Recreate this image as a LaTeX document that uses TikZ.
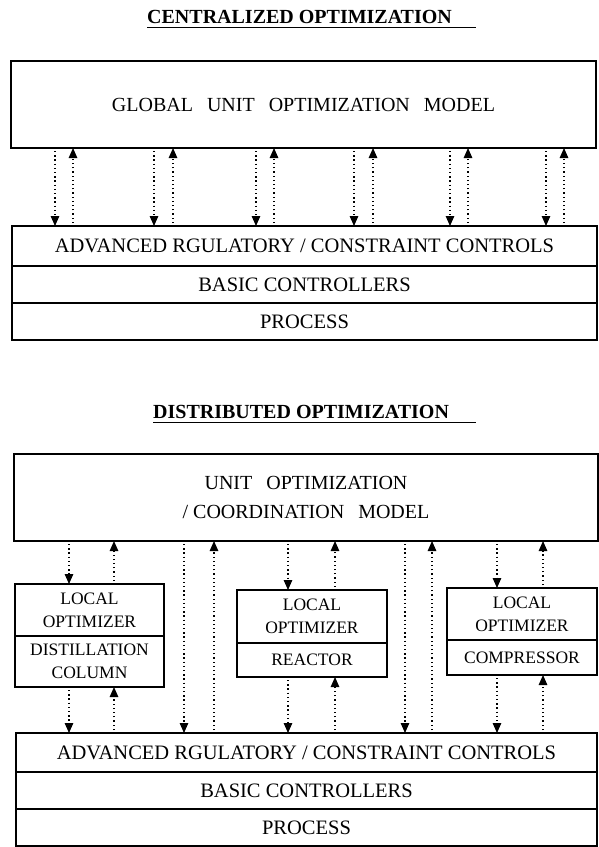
\documentclass[tikz,border=0pt]{standalone}
\usepackage{fontspec}
\setmainfont{Liberation Serif}
\usepackage{tikz}
\usetikzlibrary{positioning,arrows.meta}

\tikzset{
  box/.style={draw, line width=1.2pt, inner sep=0pt, outer sep=0pt, align=center},
  row/.style={box, minimum width=585pt, minimum height=37pt, font=\fontsize{20.5}{24}\selectfont},
  loc/.style={box, minimum width=150pt, font=\fontsize{17.5}{23}\selectfont},
  sig/.style={line width=1.2pt, dash pattern=on 1.3pt off 2.9pt, shorten <=3pt,
              -{Triangle[length=10pt,width=8.5pt]}},
  title/.style={inner sep=0pt, anchor=base west, font=\fontsize{20}{24}\selectfont\bfseries},
}
\newcommand\wgap{\hspace{0.7em}}

\begin{document}
\begin{tikzpicture}[x=1pt, y=-1pt]
   \useasboundingbox (0,0) rectangle (599,847);
   % centralized
   \node[title] (t1) at (147,23.5) {CENTRALIZED OPTIMIZATION};
   \draw[line width=1pt] ([yshift=-3.5pt]t1.base west) -- ++(329,0);
   \node[box, minimum width=585pt, minimum height=87pt, font=\fontsize{20}{29}\selectfont]
      (glob) at (303.5,104.5) {GLOBAL\wgap UNIT\wgap OPTIMIZATION\wgap MODEL};
   \node[row, minimum height=40pt] (adv1) at (304.5,246) {ADVANCED RGULATORY / CONSTRAINT CONTROLS};
   \node[row, below=0pt of adv1] (bas1) {BASIC CONTROLLERS};
   \node[row, below=0pt of bas1] (pro1) {PROCESS};
   \foreach \d/\u in {55/73,154/173,256/274,354/373,450/468,546/564}{
      \draw[sig] (glob.south -| \d,0) -- (adv1.north -| \d,0);
      \draw[sig] (adv1.north -| \u,0) -- (glob.south -| \u,0);
   }
   % distributed
   \node[title] (t2) at (153,418.5) {DISTRIBUTED OPTIMIZATION};
   \draw[line width=1pt] ([yshift=-3.5pt]t2.base west) -- ++(323,0);
   \node[box, minimum width=584pt, minimum height=87pt, font=\fontsize{20}{29}\selectfont]
      (coord) at (306,497.5) {UNIT\wgap OPTIMIZATION\\/ COORDINATION\wgap MODEL};
   \node[loc, minimum width=149pt, minimum height=52pt] (dopt) at (89.5,610) {LOCAL\\OPTIMIZER};
   \node[loc, minimum width=149pt, minimum height=51pt, below=0pt of dopt] (dcol) {DISTILLATION\\COLUMN};
   \node[loc, minimum height=53pt] (ropt) at (312,616.5) {LOCAL\\OPTIMIZER};
   \node[loc, minimum height=34pt, below=0pt of ropt] (rrea) {REACTOR};
   \node[loc, minimum height=52pt] (copt) at (522,614) {LOCAL\\OPTIMIZER};
   \node[loc, minimum height=35pt, below=0pt of copt] (ccom) {COMPRESSOR};
   \node[row, minimum width=581pt, minimum height=39pt] (adv2) at (306.5,752.5) {ADVANCED RGULATORY / CONSTRAINT CONTROLS};
   \node[row, minimum width=581pt, below=0pt of adv2] (bas2) {BASIC CONTROLLERS};
   \node[row, minimum width=581pt, below=0pt of bas2] (pro2) {PROCESS};
   \foreach \a/\b/\d/\u in {dopt/dcol/69/114, ropt/rrea/288/335, copt/ccom/497/543}{
      \draw[sig] (coord.south -| \d,0) -- (\a.north -| \d,0);
      \draw[sig] (\a.north -| \u,0) -- (coord.south -| \u,0);
      \draw[sig] (\b.south -| \d,0) -- (adv2.north -| \d,0);
      \draw[sig] (adv2.north -| \u,0) -- (\b.south -| \u,0);
   }
   \foreach \d/\u in {184/214, 405/432}{
      \draw[sig] (coord.south -| \d,0) -- (adv2.north -| \d,0);
      \draw[sig] (adv2.north -| \u,0) -- (coord.south -| \u,0);
   }
\end{tikzpicture}
\end{document}
